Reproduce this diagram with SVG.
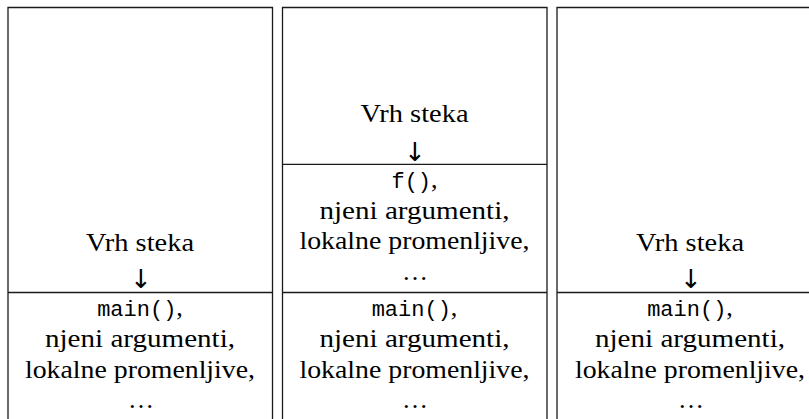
<svg xmlns="http://www.w3.org/2000/svg" width="809" height="419" viewBox="0 0 809 419">
<style>
.ln{stroke:#1a1a1a;stroke-width:1.3;fill:none}
.t{font-family:"Liberation Serif","Times New Roman",serif;font-size:26px;fill:#000;text-anchor:middle}
.m{font-family:"Liberation Mono","Courier New",monospace;font-size:22px}
.ar{font-family:"DejaVu Sans",sans-serif;font-size:26px;fill:#000;text-anchor:middle}
</style>
<rect width="809" height="419" fill="#fff"/>
<g id="connectors">
</g>
<g id="stack1">
<path class="ln" d="M8,419 V7.5 H272.5 V419 M8,292.5 H272.5"/>
<text class="t" x="140" y="251" textLength="108" lengthAdjust="spacingAndGlyphs">Vrh steka</text>
<text class="ar" x="141" y="288">↓&#xFE0E;</text>
<text class="t" x="140" y="316"><tspan class="m">main()</tspan>,</text>
<text class="t" x="140" y="347" textLength="190" lengthAdjust="spacingAndGlyphs">njeni argumenti,</text>
<text class="t" x="140" y="377.5" textLength="230" lengthAdjust="spacingAndGlyphs">lokalne promenljive,</text>
<text class="t" x="141" y="408">…</text>
</g>
<g id="stack2">
<path class="ln" d="M282.5,419 V7.5 H547 V419 M282.5,164.3 H547 M282.5,292.5 H547"/>
<text class="t" x="414.5" y="122" textLength="108" lengthAdjust="spacingAndGlyphs">Vrh steka</text>
<text class="ar" x="415" y="161">↓&#xFE0E;</text>
<text class="t" x="414.5" y="187.5"><tspan class="m">f()</tspan>,</text>
<text class="t" x="414.5" y="218.5" textLength="190" lengthAdjust="spacingAndGlyphs">njeni argumenti,</text>
<text class="t" x="414.5" y="249" textLength="230" lengthAdjust="spacingAndGlyphs">lokalne promenljive,</text>
<text class="t" x="415" y="280">…</text>
<text class="t" x="414.5" y="316"><tspan class="m">main()</tspan>,</text>
<text class="t" x="414.5" y="347" textLength="190" lengthAdjust="spacingAndGlyphs">njeni argumenti,</text>
<text class="t" x="414.5" y="377.5" textLength="230" lengthAdjust="spacingAndGlyphs">lokalne promenljive,</text>
<text class="t" x="415" y="408">…</text>
</g>
<g id="stack3">
<path class="ln" d="M557,419 V7.5 H812 M557,292.5 H812"/>
<text class="t" x="690" y="251" textLength="108" lengthAdjust="spacingAndGlyphs">Vrh steka</text>
<text class="ar" x="691" y="288">↓&#xFE0E;</text>
<text class="t" x="690" y="316"><tspan class="m">main()</tspan>,</text>
<text class="t" x="690" y="347" textLength="190" lengthAdjust="spacingAndGlyphs">njeni argumenti,</text>
<text class="t" x="690" y="377.5" textLength="230" lengthAdjust="spacingAndGlyphs">lokalne promenljive,</text>
<text class="t" x="691" y="408">…</text>
</g>
</svg>
